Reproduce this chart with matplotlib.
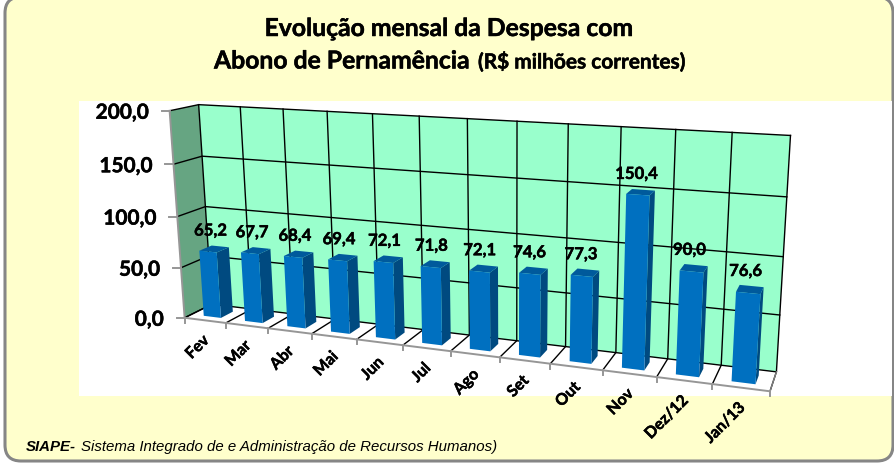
import numpy as np
import matplotlib
matplotlib.use('Agg')
import matplotlib.pyplot as plt
import matplotlib.patheffects as pe
from matplotlib.patches import FancyBboxPatch, Polygon, Rectangle

meses = ['Fev', 'Mar', 'Abr', 'Mai', 'Jun', 'Jul', 'Ago', 'Set', 'Out', 'Nov', 'Dez/12', 'Jan/13']
despesa = [65.2, 67.7, 68.4, 69.4, 72.1, 71.8, 72.1, 74.6, 77.3, 150.4, 90.0, 76.6]
niveis = [0, 50, 100, 150, 200]

# (categoria, profundidade, valor) -> pixel; fitted as one camera
ancoras = [
    (0, 0, 0, 185, 317.7), (12, 0, 0, 770, 391.7), (0, 1, 0, 212, 304.5), (12, 1, 0, 776.7, 371.7),
    (0, 0, 200, 169.7, 110.7), (0, 1, 200, 198.3, 105), (12, 1, 200, 790, 135),
    (6, 0, 0, 450, 351.2), (0, 0, 100, 177.3, 216), (0, 1, 100, 205, 206.7),
    (12, 1, 100, 783.3, 257.3), (6, 1, 200, 468.3, 118.7), (9, 1, 0, 615.7, 351.7),
    (3, 0, 0, 311.7, 333.8), (9, 0, 0, 602.7, 370.6),
]


def _fit_camera(pts):
    A, b = [], []
    for x, y, z, u, v in pts:
        z = z / 200.0
        A.append([x, y, z, 1, 0, 0, 0, 0, -u*x, -u*y, -u*z])
        A.append([0, 0, 0, 0, x, y, z, 1, -v*x, -v*y, -v*z])
        b += [u, v]
    m = np.linalg.lstsq(np.array(A, dtype=float), np.array(b, dtype=float), rcond=None)[0]
    return np.append(m, 1).reshape(3, 4)


CAM = _fit_camera(ancoras)


def proj(x, y, z):
    p = CAM @ np.array([x, y, z / 200.0, 1.0])
    return p[0] / p[2], p[1] / p[2]


plt.rcParams['font.family'] = ['Lato', 'DejaVu Sans']
fig = plt.figure(figsize=(8.95, 4.65), dpi=100, facecolor='white')
ax = fig.add_axes([0, 0, 1, 1])
ax.set_xlim(0, 895)
ax.set_ylim(465, 0)
ax.axis('off')

# Lato bold is a touch lighter than the reference's text
negrito = [pe.withStroke(linewidth=0.35, foreground='black')]

ax.add_patch(FancyBboxPatch((21, 13), 856, 432, boxstyle='round,pad=16,rounding_size=16',
                            fc='#FFFFCC', ec='#868686', lw=2.2, zorder=0))
ax.add_patch(Rectangle((79, 101), 813, 295, fc='white', ec='none', zorder=1))

# paredes
ax.add_patch(Polygon([proj(0, 0, 0), proj(0, 1, 0), proj(0, 1, 200), proj(0, 0, 200)],
                     fc='#66A582', ec='none', zorder=2))
ax.add_patch(Polygon([proj(0, 1, 0), proj(12, 1, 0), proj(12, 1, 200), proj(0, 1, 200)],
                     fc='#99FFCC', ec='none', zorder=2))

for n in niveis:
    ax.plot(*zip(proj(0, 0, n), proj(0, 1, n), proj(12, 1, n)), color='black', lw=1.0, zorder=3)
for i in range(13):
    ax.plot(*zip(proj(i, 0, 0), proj(i, 1, 0), proj(i, 1, 200)), color='black', lw=1.0, zorder=3)
ax.plot(*zip(proj(12, 0, 0), proj(12, 1, 0)), color='#808080', lw=1, zorder=3)

# eixos
ax.plot(*zip(proj(0, 0, 200), proj(0, 0, 0), proj(12, 0, 0)), color='#969696', lw=1.4, zorder=4)
for n in niveis:
    x, y = proj(0, 0, n)
    ax.plot([x - 8, x], [y, y], color='#969696', lw=1.4, zorder=4)
    ax.text(x - 21, y + 2, f'{n:.1f}'.replace('.', ','), ha='right', va='center',
            fontsize=15, fontweight='bold', color='black', zorder=6, path_effects=negrito)
for i in range(13):
    x, y = proj(i, 0, 0)
    ax.plot([x, x], [y, y + 5], color='#969696', lw=1.4, zorder=4)

# barras
X0, X1, Y0, Y1 = 0.3, 0.72, 0.25, 0.7
for i, v in enumerate(despesa):
    a, b = i + X0, i + X1
    ax.add_patch(Polygon([proj(b, Y0, 0), proj(b, Y1, 0), proj(b, Y1, v), proj(b, Y0, v)],
                         fc='#004A80', ec='none', zorder=5))
    ax.add_patch(Polygon([proj(a, Y0, v), proj(b, Y0, v), proj(b, Y1, v), proj(a, Y1, v)],
                         fc='#005A9C', ec='none', zorder=5))
    ax.add_patch(Polygon([proj(a, Y0, 0), proj(b, Y0, 0), proj(b, Y0, v), proj(a, Y0, v)],
                         fc='#0070C0', ec='none', zorder=5))
    cx, cy = proj(i + 0.5, 0.5, v)
    ax.text(cx - 4, cy - 18, f'{v:.1f}'.replace('.', ','), ha='center', va='center',
            fontsize=12, fontweight='bold', color='black', zorder=6, path_effects=negrito)
    tx, ty = proj(i + 0.5, 0, 0)
    ax.text(tx + 2, ty + 18, meses[i], ha='right', va='center', rotation=45, rotation_mode='anchor',
            fontsize=11.5, fontweight='bold', color='black', zorder=6, path_effects=negrito)

ax.text(449, 36, 'Evolução mensal da Despesa com', ha='center', va='baseline',
        fontsize=17.8, fontweight='bold', color='black', path_effects=negrito)
ax.text(214, 68.5, 'Abono de Pernamência', ha='left', va='baseline',
        fontsize=17.8, fontweight='bold', color='black', path_effects=negrito)
ax.text(478, 68.5, '(R$ milhões correntes)', ha='left', va='baseline',
        fontsize=15, fontweight='bold', color='black', path_effects=negrito)

ax.text(26, 451, 'SIAPE-', ha='left', va='baseline', fontsize=10.8, fontweight='bold',
        style='italic', family='Liberation Sans', color='black')
ax.text(81, 451, 'Sistema Integrado de e Administração de Recursos Humanos)', ha='left', va='baseline',
        fontsize=10.85, style='italic', family='Liberation Sans', color='black')

fig.savefig('out.png', dpi=100)
